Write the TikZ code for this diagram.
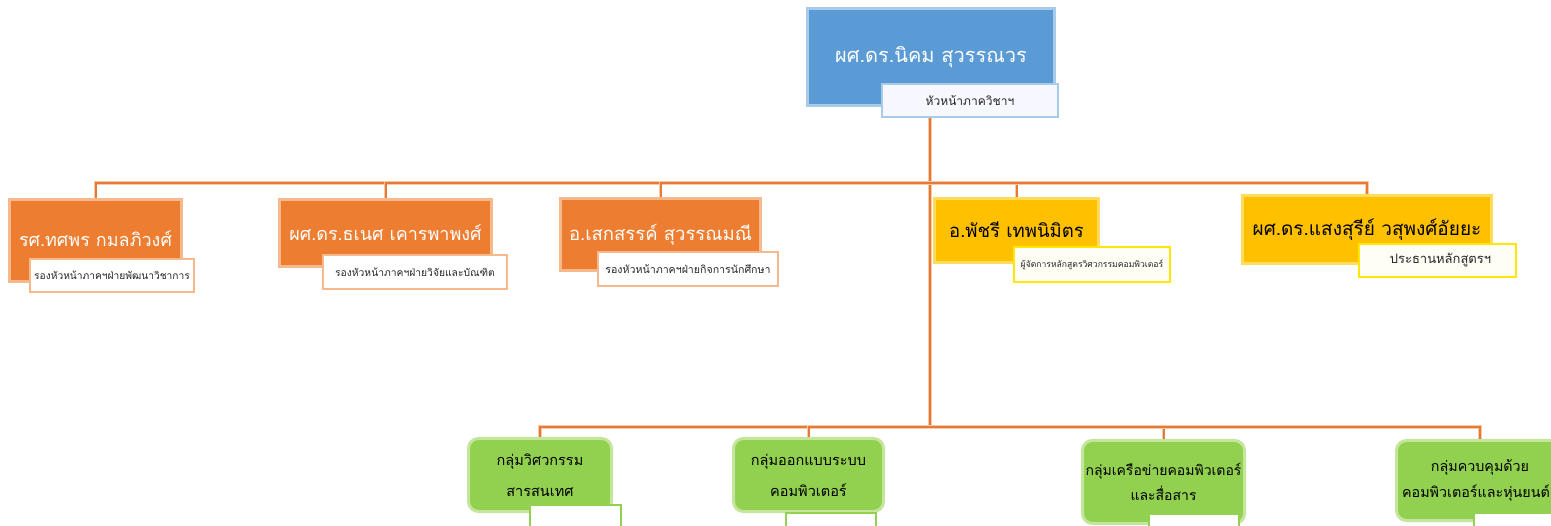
\documentclass[tikz,border=0pt]{standalone}
\usepackage{fontspec}
\setmainfont[Script=Thai]{Loma}
\definecolor{hdblue}{HTML}{5B9BD5}
\definecolor{hdedge}{HTML}{A9CBEA}
\definecolor{vcor}{HTML}{ED7D31}
\definecolor{vcedge}{HTML}{F6B98C}
\definecolor{prye}{HTML}{FFC000}
\definecolor{pryedge}{HTML}{FFDC5C}
\definecolor{gpgr}{HTML}{92D050}
\definecolor{gpedge}{HTML}{C3E59C}
\definecolor{lineor}{HTML}{E47A36}
\definecolor{linehalo}{HTML}{F8C9A6}
\begin{document}
\begin{tikzpicture}[x=1pt,y=-1pt,
  bluebox/.style={rectangle, inner sep=0pt, fill=hdblue, draw=hdedge, line width=3pt, text=white},
  orbox/.style={rectangle, inner sep=0pt, fill=vcor, draw=vcedge, line width=3pt, text=white},
  yebox/.style={rectangle, inner sep=0pt, fill=prye, draw=pryedge, line width=3pt, text=black},
  grbox/.style={rectangle, rounded corners=10pt, inner sep=0pt, fill=gpgr, draw=gpedge, line width=3pt, text=black, align=center},
  subbox/.style={rectangle, inner sep=0pt, fill=white, line width=2pt, text=black!85},
  conn/.style={draw=lineor, line width=2pt, preaction={draw=linehalo, line width=3.5pt}}]
\useasboundingbox (0,0) rectangle (1551,526);
\clip (0,0) rectangle (1551,526);
% head of department
\node[bluebox, minimum width=247, minimum height=97, font=\fontsize{20}{24}\selectfont] (pid0) at (931,57){ผศ.ดร.นิคม สุวรรณวร};
\node[subbox, draw=hdedge, fill=blue!3, minimum width=176, minimum height=33, font=\fontsize{12}{14}\selectfont] (pid0s) at (970,100.5){หัวหน้าภาควิชาฯ};
% deputies
\node[orbox, minimum width=172, minimum height=82, font=\fontsize{18}{22}\selectfont] (pid1) at (95.5,240.5){\raisebox{3pt}{รศ.ทศพร กมลภิวงศ์}};
\node[subbox, draw=vcedge, minimum width=164, minimum height=33, font=\fontsize{10.2}{12}\selectfont] (pid1s) at (112,275.5){รองหัวหน้าภาคฯฝ่ายพัฒนาวิชาการ};
\node[orbox, minimum width=212, minimum height=67, font=\fontsize{18}{22}\selectfont] (pid2) at (385.5,233){ผศ.ดร.ธเนศ เคารพาพงศ์};
\node[subbox, draw=vcedge, minimum width=184, minimum height=34, font=\fontsize{10.3}{12}\selectfont] (pid2s) at (415,272){รองหัวหน้าภาคฯฝ่ายวิจัยและบัณฑิต};
\node[orbox, minimum width=200, minimum height=72, font=\fontsize{18.5}{22}\selectfont] (pid3) at (660.5,234.5){อ.เสกสรรค์ สุวรรณมณี};
\node[subbox, draw=vcedge, minimum width=180, minimum height=34, font=\fontsize{10.6}{12}\selectfont] (pid3s) at (688,269){รองหัวหน้าภาคฯฝ่ายกิจการนักศึกษา};
% programme
\node[yebox, minimum width=164, minimum height=64, font=\fontsize{18.5}{22}\selectfont] (pid4) at (1016.5,230.5){\raisebox{2pt}{อ.พัชรี เทพนิมิตร}};
\node[subbox, draw=yellow!90!orange, fill=yellow!4, minimum width=156, minimum height=35, font=\fontsize{8.6}{11}\selectfont] (pid4s) at (1092,264.5){ผู้จัดการหลักสูตรวิศวกรรมคอมพิวเตอร์};
\node[yebox, minimum width=249, minimum height=68, font=\fontsize{19}{23}\selectfont] (pid5) at (1367,229.5){\raisebox{3pt}{ผศ.ดร.แสงสุรีย์ วสุพงศ์อัยยะ}};
\node[subbox, draw=yellow!90!orange, fill=yellow!4, minimum width=157, minimum height=33, font=\fontsize{13}{15}\selectfont] (pid5s) at (1437.5,260.5){\hspace*{6pt}ประธานหลักสูตรฯ};
% groups
\node[grbox, minimum width=143, minimum height=73, font=\fontsize{14.5}{31}\selectfont] (gid1) at (540,475){กลุ่มวิศวกรรม\\สารสนเทศ};
\node[subbox, draw=gpgr, minimum width=91, minimum height=34] (gid1s) at (575.5,522){};
\node[grbox, minimum width=150, minimum height=73, font=\fontsize{14.5}{31}\selectfont] (gid2) at (808.5,475){กลุ่มออกแบบระบบ\\คอมพิวเตอร์};
\node[subbox, draw=gpgr, minimum width=90, minimum height=34] (gid2s) at (831,530){};
\node[grbox, minimum width=162, minimum height=83, font=\fontsize{14}{25}\selectfont] (gid3) at (1163.5,482){กลุ่มเครือข่ายคอมพิวเตอร์\\และสื่อสาร};
\node[subbox, draw=gpgr, minimum width=90, minimum height=34] (gid3s) at (1194,531){};
\node[grbox, minimum width=167, minimum height=80, font=\fontsize{14.3}{26}\selectfont] (gid4) at (1480,480.5){กลุ่มควบคุมด้วย\\\hspace*{-4pt}คอมพิวเตอร์และหุ่นยนต์\hspace*{4pt}};
\node[subbox, draw=gpgr, minimum width=90, minimum height=34] (gid4s) at (1519,530){};
% junctions
\coordinate (j1) at (930,183);
\coordinate (j2) at (930,427);
\draw[conn](pid0s.south -| j1) -- (j2);
\draw[conn](pid1.north) |- (j1);
\draw[conn](pid2.north) |- (j1);
\draw[conn](pid3.north) |- (j1);
\draw[conn](pid4.north) |- (j1);
\draw[conn](pid5.north) |- (j1);
\draw[conn](gid1.north) |- (j2);
\draw[conn](gid2.north) |- (j2);
\draw[conn](gid3.north) |- (j2);
\draw[conn](gid4.north) |- (j2);
\end{tikzpicture}
\end{document}
